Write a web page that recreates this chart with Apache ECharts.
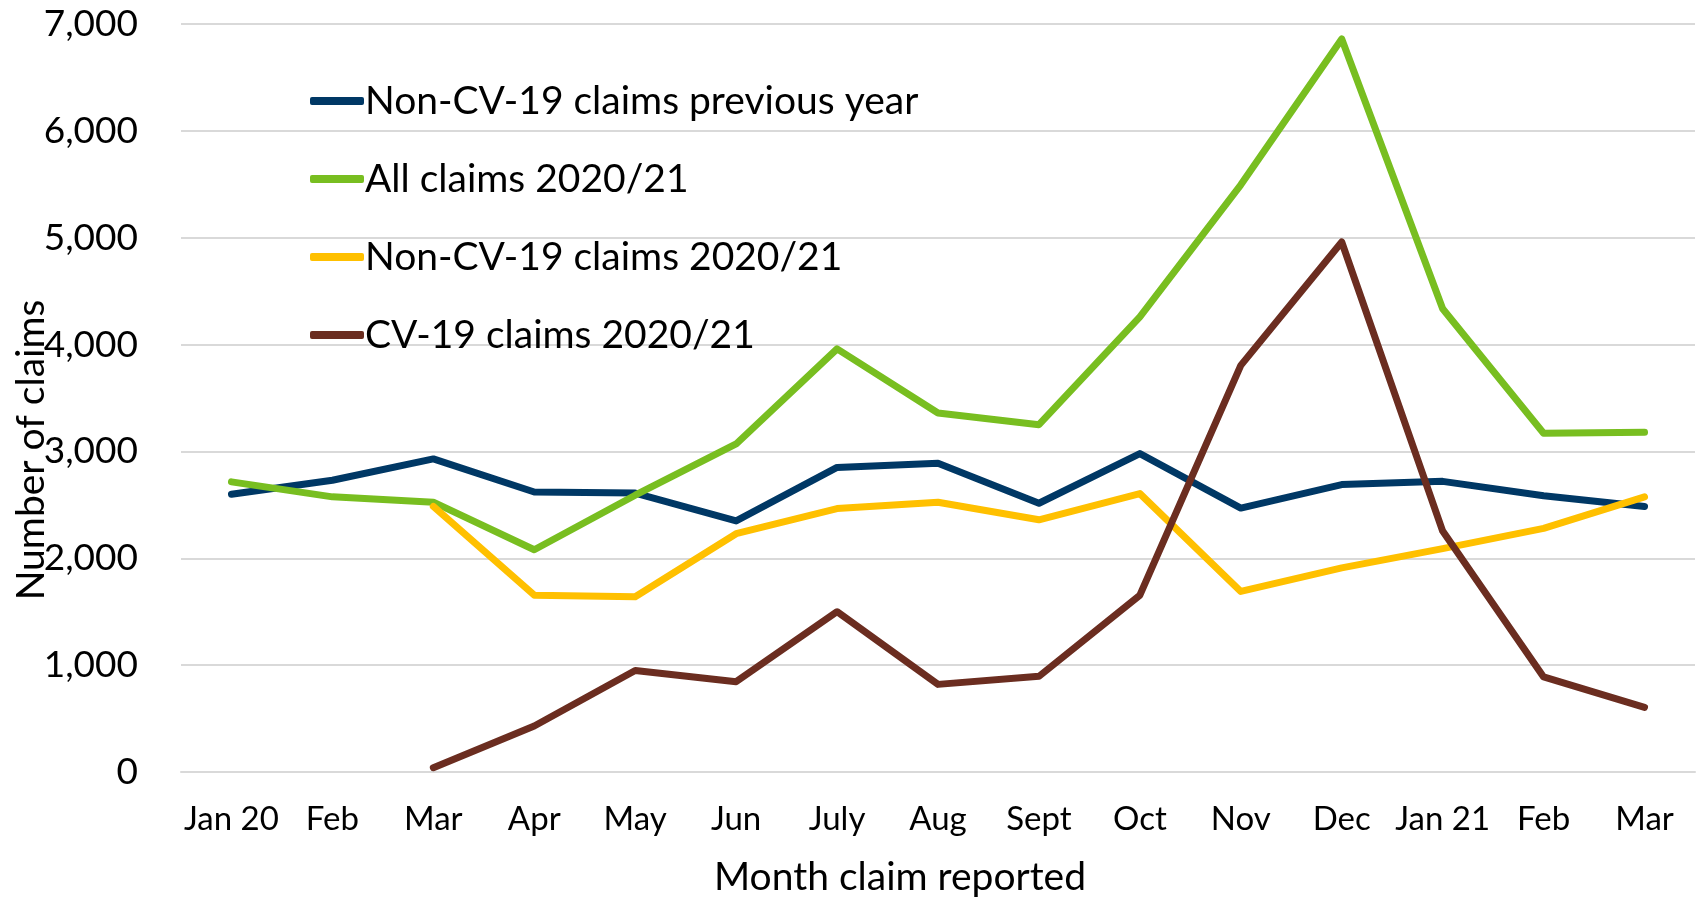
<!DOCTYPE html>
<html>
<head>
<meta charset="utf-8">
<title>Number of claims by month</title>
<script src="https://cdn.jsdelivr.net/npm/echarts@6/dist/echarts.min.js"></script>
<style>
  html, body { margin: 0; padding: 0; background: #fff; }
  #chart { width: 1698px; height: 897px; }
</style>
</head>
<body>
<div id="chart"></div>
<script>
// month labels along the x axis
const months = ['Jan 20', 'Feb', 'Mar', 'Apr', 'May', 'Jun', 'July', 'Aug', 'Sept', 'Oct', 'Nov', 'Dec', 'Jan 21', 'Feb', 'Mar'];

// series values
const nonCvPrevYear = [2600, 2730, 2930, 2620, 2610, 2350, 2850, 2890, 2515, 2980, 2470, 2690, 2720, 2585, 2485];
const allClaims = [2715, 2575, 2525, 2080, 2590, 3070, 3960, 3360, 3250, 4260, 5495, 6860, 4335, 3170, 3180];
const nonCvClaims = [null, null, 2485, 1655, 1640, 2230, 2465, 2525, 2360, 2605, 1690, 1910, 2090, 2280, 2575];
const cvClaims = [null, null, 40, 430, 950, 845, 1500, 820, 895, 1655, 3805, 4960, 2255, 890, 605];

const seriesNames = ['Non-CV-19 claims previous year', 'All claims 2020/21', 'Non-CV-19 claims 2020/21', 'CV-19 claims 2020/21'];
const seriesColors = ['#003865', '#78be20', '#ffc000', '#6b2d20'];

const font = 'Lato, "Open Sans", sans-serif';

const chart = echarts.init(document.getElementById('chart'));

const makeLine = (name, data, color) => ({
  name: name,
  type: 'line',
  data: data,
  showSymbol: false,
  symbol: 'none',
  connectNulls: false,
  itemStyle: { color: color },
  lineStyle: { color: color, width: 7, cap: 'round', join: 'round' },
  emphasis: { disabled: true }
});

chart.setOption({
  animation: false,
  textStyle: { fontFamily: font, color: '#000' },
  grid: { left: 181, right: 3, top: 24, bottom: 125, outerBoundsMode: 'none', containLabel: false },
  legend: {
    orient: 'vertical',
    left: 305,
    top: 75,
    itemWidth: 54,
    itemHeight: 8,
    itemGap: 36,
    icon: 'roundRect',
    data: seriesNames,
    textStyle: { fontFamily: font, fontSize: 39, color: '#000', lineHeight: 42, padding: [0, 0, 0, -4] }
  },
  xAxis: {
    type: 'category',
    data: months,
    boundaryGap: true,
    name: 'Month claim reported',
    nameLocation: 'middle',
    nameGap: 86,
    nameTextStyle: { fontFamily: font, fontSize: 39, color: '#000', padding: [0, 76, 0, 0] },
    axisLine: { show: true, lineStyle: { color: '#d9d9d9', width: 2 } },
    axisTick: { show: false },
    axisLabel: { fontFamily: font, fontSize: 33, color: '#000', margin: 31, interval: 0 }
  },
  yAxis: {
    type: 'value',
    min: 0,
    max: 7000,
    interval: 1000,
    name: 'Number of claims',
    nameLocation: 'middle',
    nameGap: 130,
    nameMoveOverlap: false,
    nameRotate: 90,
    nameTextStyle: { fontFamily: font, fontSize: 39, color: '#000', padding: [0, 104, 0, 0] },
    axisLine: { show: false },
    axisTick: { show: false },
    splitLine: { lineStyle: { color: '#d9d9d9', width: 2 } },
    axisLabel: {
      fontFamily: font,
      fontSize: 37,
      color: '#000',
      margin: 43,
      formatter: v => v.toLocaleString('en-US')
    }
  },
  series: [
    makeLine(seriesNames[0], nonCvPrevYear, seriesColors[0]),
    makeLine(seriesNames[1], allClaims, seriesColors[1]),
    makeLine(seriesNames[2], nonCvClaims, seriesColors[2]),
    makeLine(seriesNames[3], cvClaims, seriesColors[3])
  ]
});
</script>
</body>
</html>
